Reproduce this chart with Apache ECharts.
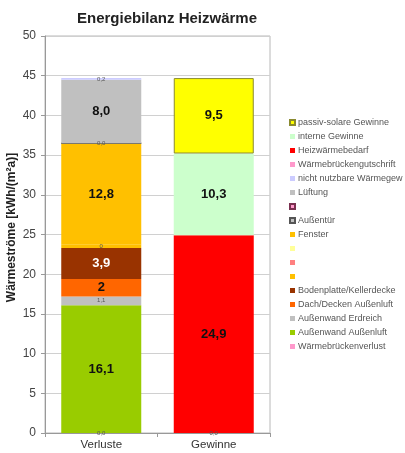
<!DOCTYPE html>
<html><head><meta charset="utf-8">
<script src="https://cdn.jsdelivr.net/npm/echarts@6/dist/echarts.min.js"></script>
<style>html,body{margin:0;padding:0;background:#fff}#c{width:405px;height:453px}</style>
</head><body><div id="c"></div>
<script>
const categories = ['Verluste', 'Gewinne'];
const yTicks = [0, 5, 10, 15, 20, 25, 30, 35, 40, 45, 50];
// series in stacking order (bottom -> top)
const seriesNames = ['Wärmebrückenverlust','Außenwand Außenluft','Außenwand Erdreich','Dach/Decken Außenluft','Bodenplatte/Kellerdecke',' ','  ','   ','Fenster','Außentür','    ','Lüftung','nicht nutzbare Wärmegew','Wärmebrückengutschrift','Heizwärmebedarf','interne Gewinne','passiv-solare Gewinne'];
const wbVerlust = [0, 0];
const awAussenluft = [16.1, null];
const awErdreich = [1.1, null];
const dachDecken = [2.2, null];
const bodenplatte = [3.9, null];
const blankGold = [0.4, null];
const blankSalmon = [null, null];
const blankLightYellow = [null, null];
const fenster = [12.8, null];
const aussentuer = [0, null];
const blankPink = [null, null];
const lueftung = [8.0, null];
const nichtNutzbar = [0.2, null];
const wbGutschrift = [null, null];
const heizwaerme = [null, 24.9];
const interneGewinne = [null, 10.3];
const passivSolar = [null, 9.5];
const seriesValues = [wbVerlust, awAussenluft, awErdreich, dachDecken, bodenplatte, blankGold, blankSalmon, blankLightYellow, fenster, aussentuer, blankPink, lueftung, nichtNutzbar, wbGutschrift, heizwaerme, interneGewinne, passivSolar];
const labelDigits = [1,1,1,0,1,0,1,1,1,1,1,1,1,1,1,1,1];

const colors = ['#ff99cc','#99cc00','#c0c0c0','#ff6600','#993300','#ffc000','#ff8080','#ffff99','#ffc000','#c0c0c0','#ff99cc','#c0c0c0','#ccccff','#ff99cc','#ff0000','#ccffcc','#ffff00'];
const borders = {9:'#555555',10:'#7a3050',16:'#8a8a30'};
const smallLabel = {0:1,2:1,5:1,9:1,12:1};
const whiteLabel = {4:1};
const FONT = 'Liberation Sans, Arial, sans-serif';

const series = seriesNames.map((n, i) => ({
  name: n, type: 'bar', stack: 'total', barWidth: 80,
  data: seriesValues[i].map(v => v === null ? '-' : v),
  itemStyle: { color: colors[i], borderColor: borders[i] || colors[i], borderWidth: borders[i] ? 1 : 0 },
  label: {
    show: true, position: 'inside',
    formatter: p => Number(p.value).toFixed(labelDigits[i]).replace('.', ','),
    fontFamily: FONT,
    fontSize: smallLabel[i] ? 6 : 13,
    fontWeight: smallLabel[i] ? 'normal' : 'bold',
    color: smallLabel[i] ? '#555' : (whiteLabel[i] ? '#fff' : '#111')
  },
  emphasis: { disabled: true }
}));

const chart = echarts.init(document.getElementById('c'), null, { renderer: 'canvas' });
chart.setOption({
  animation: false,
  title: { text: 'Energiebilanz Heizwärme', left: 162, top: 6, textAlign: 'center',
    textStyle: { fontFamily: FONT, fontSize: 15, fontWeight: 'bold', color: '#222' } },
  grid: { left: 45, right: 135, top: 36, bottom: 20, show: true, borderColor: '#b8b8b8', borderWidth: 1,
    containLabel: false, outerBoundsMode: 'none' },
  legend: {
    orient: 'vertical', left: 284, top: 113, itemWidth: 5, itemHeight: 5, itemGap: 5,
    data: seriesNames.slice().reverse(),
    textStyle: { fontFamily: FONT, fontSize: 9, color: '#555', padding: [0,0,0,-2] },
    selectedMode: false, icon: 'rect'
  },
  xAxis: { type: 'category', data: categories,
    axisLine: { lineStyle: { color: '#999' } },
    axisTick: { show: true, length: 4, lineStyle: { color: '#999' } },
    axisLabel: { fontFamily: FONT, fontSize: 11.5, color: '#333', margin: 6 } },
  yAxis: { type: 'value', min: 0, max: 50, interval: 5,
    name: 'Wärmeströme [kWh/(m²a)]', nameLocation: 'middle', nameGap: 27, nameMoveOverlap: false,
    nameTextStyle: { fontFamily: FONT, fontSize: 12, fontWeight: 'bold', color: '#222', padding: [0,0,0,14] },
    axisLine: { show: true, lineStyle: { color: '#999' } },
    axisTick: { show: true, length: 4, lineStyle: { color: '#999' } },
    splitLine: { lineStyle: { color: '#d0d0d0' } },
    axisLabel: { fontFamily: FONT, fontSize: 12, color: '#444', margin: 9,
      formatter: v => yTicks.includes(v) ? String(v) : '' } },
  series: series
});
</script></body></html>
